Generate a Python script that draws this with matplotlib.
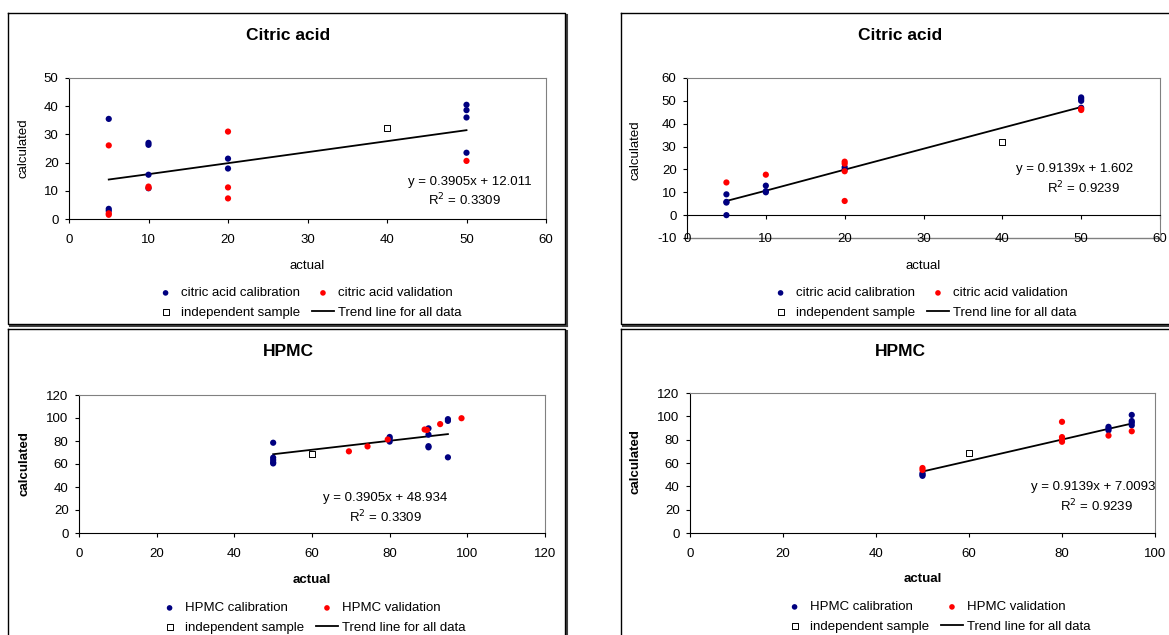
import matplotlib.pyplot as plt
from matplotlib.lines import Line2D

plt.rcParams['font.family'] = ['Liberation Sans', 'DejaVu Sans']
plt.rcParams['axes.unicode_minus'] = False

# citric acid - first model (top left)
ca1_cal_x = [5, 5, 5, 10, 10, 10, 10, 20, 20, 50, 50, 50, 50]
ca1_cal_y = [35.5, 3.6, 2.9, 27.0, 26.3, 15.7, 10.9, 21.4, 17.9, 40.5, 38.6, 36.0, 23.5]
ca1_val_x = [5, 5, 5, 10, 10, 20, 20, 20, 50]
ca1_val_y = [26.1, 2.0, 1.5, 11.5, 11.0, 31.0, 11.2, 7.3, 20.6]
ca1_ind_x = [40]
ca1_ind_y = [32.1]
ca1_trend_x = [5, 10, 20, 40, 50]
ca1_trend_y = [14.0, 15.9, 19.8, 27.6, 31.5]

# citric acid - second model (top right)
ca2_cal_x = [5, 5, 5, 5, 10, 10, 10, 20, 20, 50, 50, 50, 50]
ca2_cal_y = [9.1, 5.8, 5.5, 0.0, 12.9, 10.5, 10.0, 20.0, 21.0, 51.5, 50.8, 50.0, 47.0]
ca2_val_x = [5, 10, 20, 20, 20, 20, 50, 50]
ca2_val_y = [14.3, 17.7, 23.4, 22.5, 19.2, 6.2, 46.0, 46.5]
ca2_ind_x = [40]
ca2_ind_y = [32.2]
ca2_trend_x = [5, 10, 20, 40, 50]
ca2_trend_y = [6.2, 10.7, 19.9, 38.2, 47.3]

# HPMC - first model (bottom left)
hp1_cal_x = [50, 50, 50, 50, 50, 80, 80, 80, 90, 90, 90, 90, 95, 95, 95]
hp1_cal_y = [78.5, 65.5, 63.5, 61.5, 60.5, 83.5, 82.0, 79.5, 91.0, 85.5, 75.5, 74.5, 99.0, 97.5, 65.8]
hp1_val_x = [69.5, 74.3, 79.5, 89.0, 89.6, 93.0, 98.5]
hp1_val_y = [71.0, 75.3, 81.3, 90.0, 89.6, 94.7, 99.8]
hp1_ind_x = [60]
hp1_ind_y = [69.0]
hp1_trend_x = [50, 60, 70, 80, 90, 95]
hp1_trend_y = [68.5, 72.4, 76.3, 80.2, 84.1, 86.0]

# HPMC - second model (bottom right)
hp2_cal_x = [50, 50, 50, 90, 90, 90, 95, 95, 95, 95]
hp2_cal_y = [51.2, 50.0, 49.0, 91.0, 89.5, 88.0, 101.2, 96.0, 94.5, 92.3]
hp2_val_x = [50, 50, 80, 80, 80, 80, 90, 95]
hp2_val_y = [55.7, 54.0, 95.3, 82.2, 80.0, 78.2, 83.5, 87.2]
hp2_ind_x = [60]
hp2_ind_y = [69.0]
hp2_trend_x = [50, 60, 80, 90, 95]
hp2_trend_y = [52.7, 61.8, 80.1, 89.3, 93.8]

W, H = 1169, 635
BLUE = '#000080'
RED = '#ff0000'
GRAY = '#808080'

fig = plt.figure(figsize=(W / 100, H / 100), dpi=100)


def px(x0, y0, x1, y1):
    # pixel box -> figure rect
    return [x0 / W, 1 - y1 / H, (x1 - x0) / W, (y1 - y0) / H]


def frame(x0, y0, x1, y1):
    fx0, fx1 = x0 / W, x1 / W
    fy0, fy1 = 1 - y0 / H, 1 - y1 / H
    d = 2.0
    # shadow on right and bottom
    fig.add_artist(Line2D([fx1 + d / W, fx1 + d / W], [fy0 - d / H, fy1 - d / H],
                          color='#404040', lw=1.5, zorder=-2))
    fig.add_artist(Line2D([fx0 + d / W, fx1 + d / W], [fy1 - d / H, fy1 - d / H],
                          color='#404040', lw=1.5, zorder=-2))
    fig.add_artist(Line2D([fx0, fx1, fx1, fx0, fx0], [fy0, fy0, fy1, fy1, fy0],
                          color='black', lw=1.0, zorder=-1))


def panel(rect, cal_x, cal_y, val_x, val_y, ind_x, ind_y, tr_x, tr_y, xlim, ylim,
          step_x, step_y, name, eq, r2, eq_pos, r2_pos, bold):
    ax = fig.add_axes(rect)
    ax.scatter(cal_x, cal_y, s=20, color=BLUE, edgecolors='none', zorder=3,
               label=name + ' calibration')
    ax.scatter(val_x, val_y, s=20, color=RED, edgecolors='none', zorder=3,
               label=name + ' validation')
    ax.scatter(ind_x, ind_y, s=18, marker='s', facecolors='white', edgecolors='black',
               linewidths=0.7, zorder=3, label='independent sample')
    ax.plot(tr_x, tr_y, color='black', lw=1.3, zorder=2, label='Trend line for all data')
    ax.set_xlim(xlim)
    ax.set_ylim(ylim)
    ax.set_xticks(range(xlim[0], xlim[1] + 1, step_x))
    ax.set_yticks(range(ylim[0], ylim[1] + 1, step_y))
    for s in ['top', 'right']:
        ax.spines[s].set_color(GRAY)
    ax.spines['left'].set_color('black')
    ax.spines['bottom'].set_color('black')
    ax.tick_params(direction='out', length=3, width=0.8, labelsize=9.5)
    ax.tick_params(axis='x', pad=7.5)
    ax.tick_params(axis='y', pad=4.5)
    w = 'bold' if bold else 'normal'
    ax.set_xlabel('actual', fontsize=9.5, fontweight=w)
    ax.set_ylabel('calculated', fontsize=9.5, fontweight=w)
    ax.text(eq_pos[0], eq_pos[1], eq, transform=ax.transAxes, ha='center', va='center',
            fontsize=9.5)
    ax.text(r2_pos[0], r2_pos[1], r2, transform=ax.transAxes, ha='center', va='center',
            fontsize=9.5)
    return ax


def legend(ax, cx, cy):
    h, l = ax.get_legend_handles_labels()
    order = [0, 2, 1, 3]
    ax.legend([h[i] for i in order], [l[i] for i in order], ncol=2, frameon=False,
              fontsize=9.5, loc='center', bbox_to_anchor=(cx / W, 1 - cy / H),
              bbox_transform=fig.transFigure, handlelength=1.7, handletextpad=0.3,
              columnspacing=0.9, labelspacing=0.55, markerscale=0.9)


frame(8, 13, 565, 324)
frame(8, 329, 565, 660)
frame(621, 13, 1190, 324)
frame(621, 329, 1190, 660)

# top left
ax1 = panel(px(69, 78, 546, 219), ca1_cal_x, ca1_cal_y, ca1_val_x, ca1_val_y,
            ca1_ind_x, ca1_ind_y, ca1_trend_x, ca1_trend_y, (0, 60), (0, 50), 10, 10,
            'citric acid', 'y = 0.3905x + 12.011', 'R$^2$ = 0.3309',
            (0.84, 0.26), (0.83, 0.135), False)
ax1.xaxis.set_label_coords(0.5, -0.29)
ax1.yaxis.set_label_coords(-0.082, 0.5)
legend(ax1, 308, 303)
fig.text(288 / W, 1 - 35 / H, 'Citric acid', ha='center', va='center',
         fontsize=12.5, fontweight='bold')

# top right
ax2 = panel(px(687, 78, 1160, 238), ca2_cal_x, ca2_cal_y, ca2_val_x, ca2_val_y,
            ca2_ind_x, ca2_ind_y, ca2_trend_x, ca2_trend_y, (0, 60), (-10, 60), 10, 10,
            'citric acid', 'y = 0.9139x + 1.602', 'R$^2$ = 0.9239',
            (0.82, 0.43), (0.838, 0.31), False)
ax2.spines['bottom'].set_position(('data', 0))
ax2.tick_params(axis='x', pad=10)
ax2.axhline(-10, color=GRAY, lw=1, clip_on=False, zorder=1)
ax2.xaxis.set_label_coords(0.5, -0.1375)
ax2.yaxis.set_label_coords(-0.097, 0.55)
legend(ax2, 923, 303)
fig.text(900 / W, 1 - 35 / H, 'Citric acid', ha='center', va='center',
         fontsize=12.5, fontweight='bold')

# bottom left
ax3 = panel(px(79, 395, 545, 533), hp1_cal_x, hp1_cal_y, hp1_val_x, hp1_val_y,
            hp1_ind_x, hp1_ind_y, hp1_trend_x, hp1_trend_y, (0, 120), (0, 120), 20, 20,
            'HPMC', 'y = 0.3905x + 48.934', 'R$^2$ = 0.3309',
            (0.657, 0.254), (0.657, 0.117), True)
ax3.xaxis.set_label_coords(0.5, -0.297)
ax3.yaxis.set_label_coords(-0.105, 0.5)
legend(ax3, 312, 618)
fig.text(288 / W, 1 - 352 / H, 'HPMC', ha='center', va='center',
         fontsize=12.5, fontweight='bold')

# bottom right
ax4 = panel(px(690, 393, 1155, 533), hp2_cal_x, hp2_cal_y, hp2_val_x, hp2_val_y,
            hp2_ind_x, hp2_ind_y, hp2_trend_x, hp2_trend_y, (0, 100), (0, 120), 20, 20,
            'HPMC', 'y = 0.9139x + 7.0093', 'R$^2$ = 0.9239',
            (0.867, 0.33), (0.875, 0.19), True)
ax4.xaxis.set_label_coords(0.5, -0.286)
ax4.yaxis.set_label_coords(-0.105, 0.507)
legend(ax4, 937, 617)
fig.text(900 / W, 1 - 352 / H, 'HPMC', ha='center', va='center',
         fontsize=12.5, fontweight='bold')

fig.savefig('out.png', dpi=100)
